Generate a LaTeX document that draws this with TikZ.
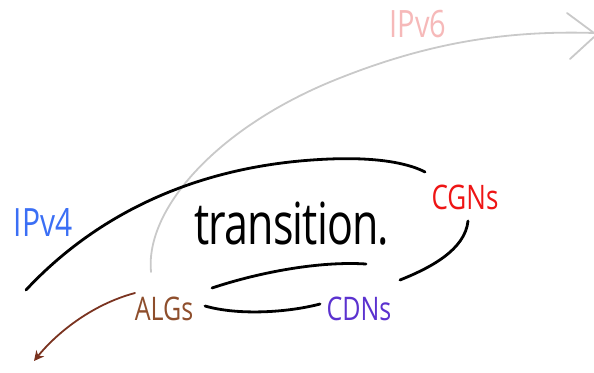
\documentclass[tikz,border=0pt]{standalone}
\usepackage{fontspec}
\setmainfont{Open Sans}
\usetikzlibrary{arrows.meta}
\definecolor{ipvsix}{HTML}{F6B9B9}
\definecolor{ipvfour}{HTML}{3B6FF5}
\definecolor{cgnred}{HTML}{EE1515}
\definecolor{cdnpurple}{HTML}{5B32CF}
\definecolor{algbrown}{HTML}{8E4E2C}
\definecolor{arrowbrown}{HTML}{7A3320}
\definecolor{lightgrey}{HTML}{C9C9C9}
\newcommand{\tallify}[1]{\scalebox{1}[1.3]{#1}}
\tikzset{
  ink/.style={line width=2.8pt, line cap=round, black},
  greyline/.style={line width=1.8pt, line cap=round, lightgrey},
  label/.style={inner sep=0pt},
}
\begin{document}
\begin{tikzpicture}[x=1pt,y=-1pt]
\useasboundingbox (0,0) rectangle (594,372);
% text nodes
\node[label, text=ipvsix, font=\fontsize{29}{31}\selectfont] (ipv6) at (418,24) {\tallify{IPv6}};
\node[label, text=ipvfour, font=\fontsize{30}{32}\selectfont] (ipv4) at (43,223) {\tallify{IPv4}};
\node[label, text=cgnred, font=\fontsize{26}{28}\selectfont] (cgn) at (465,197) {\tallify{CGNs}};
\node[label, text=algbrown, font=\fontsize{25}{27}\selectfont] (alg) at (164,309) {\tallify{ALGs}};
\node[label, text=cdnpurple, font=\fontsize{25}{27}\selectfont] (cdn) at (359,309) {\tallify{CDNs}};
\node[inner sep=0pt, font=\fontsize{43}{46}\selectfont\addfontfeature{LetterSpace=-2}] (trans) at (292,224) {\scalebox{1}[1.35]{transition.}};
% IPv6 grey arrow
\coordinate (g0) at (151,272);
\coordinate (gmid) at (330,82);
\coordinate (gtip) at (594,33);
\draw[greyline] (g0) .. controls (145,210) and (215,130) .. (gmid) .. controls (420,45) and (500,30) .. (gtip);
\coordinate (gh1) at (567,13);
\coordinate (gh2) at (570,59);
\coordinate (gtip2) at (594,37);
\draw[greyline] (gh1) -- (gtip);
\draw[greyline] (gh2) -- (gtip2);
% IPv4 black arc
\coordinate (a0) at (26,290);
\coordinate (a1) at (330,159);
\coordinate (a2) at (425,172);
\draw[ink] (a0) .. controls (80,232) and (175,165) .. (a1) .. controls (380,157) and (410,164) .. (a2);
% right arc under CGNs
\coordinate (r0) at (468,221);
\coordinate (r1) at (400,280);
\draw[ink] (r0) .. controls (465,250) and (430,268) .. (r1);
% middle upper stroke
\coordinate (m0) at (212,288);
\coordinate (m1) at (366,264);
\draw[ink] (m0) .. controls (260,272) and (320,261) .. (m1);
% lower stroke ALGs -- CDNs
\coordinate (l0) at (205,306);
\coordinate (l1) at (320,304);
\draw[ink] (l0) .. controls (240,316) and (290,312) .. (l1);
% brown arrow
\coordinate (b0) at (135,293);
\coordinate (b1) at (34,361);
\draw[line width=1.8pt, arrowbrown, line cap=round, -{Stealth[length=10pt,width=10pt]}] (b0) .. controls (90,305) and (55,335) .. (b1);
\end{tikzpicture}
\end{document}
